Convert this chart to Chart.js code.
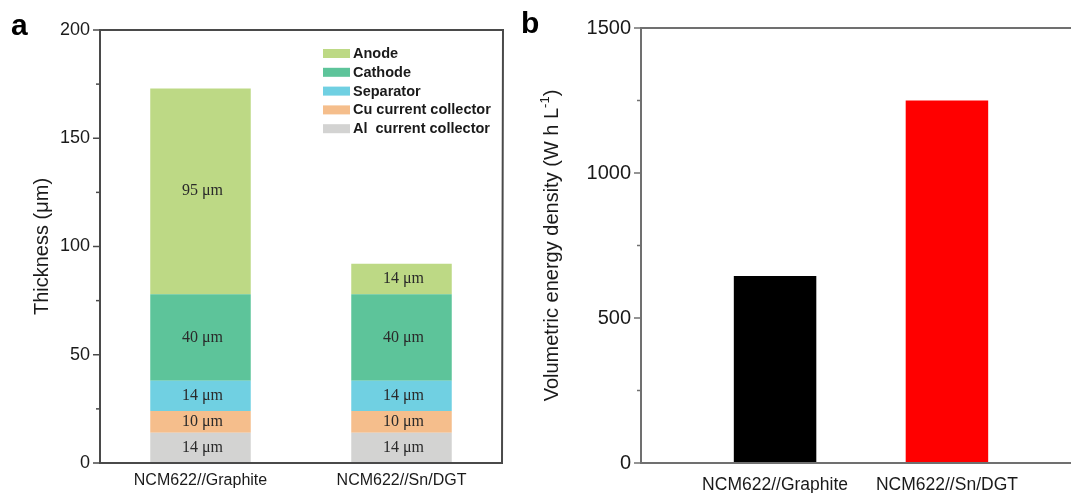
<!DOCTYPE html>
<html>
<head>
<meta charset="utf-8">
<title>Cell thickness and energy density</title>
<script src="https://cdn.jsdelivr.net/npm/chart.js@4.4.1/dist/chart.umd.min.js"></script>
<style>
  html, body { margin: 0; padding: 0; background: #fff; overflow: hidden; }
  #wrap { position: relative; width: 1071px; height: 493px; overflow: hidden; }
  #thickChart { position: absolute; left: 0; top: 0; }
  #energyChart { position: absolute; left: 530px; top: 0; }
  .panel { position: absolute; font: bold 30px Arial, "Liberation Sans", sans-serif; color: #000; line-height: 1; }
</style>
</head>
<body>
<div id="wrap">
  <canvas id="thickChart" width="530" height="493"></canvas>
  <canvas id="energyChart" width="560" height="493"></canvas>
  <div class="panel" style="left:11px; top:10px;">a</div>
  <div class="panel" style="left:521px; top:8px;">b</div>
</div>
<script>
// cell types on the x axis
const cells = ['NCM622//Graphite', 'NCM622//Sn/DGT'];

// layer thickness in µm, bottom of the stack first
const layers = ['Al  current collector', 'Cu current collector', 'Separator', 'Cathode', 'Anode'];
const alFoil = [14, 14];
const cuFoil = [10, 10];
const separator = [14, 14];
const cathode = [40, 40];
const anode = [95, 14];
const layerValues = [alFoil, cuFoil, separator, cathode, anode];
const layerColors = ['#d3d3d2', '#f5be8c', '#70d0e2', '#5dc49a', '#bdd985'];

// volumetric energy density, W h L-1
const energyDensity = [645, 1250];
const energyColors = ['#000000', '#ff0000'];

const sans = 'Arial, "Liberation Sans", sans-serif';
const serif = '"Liberation Serif", "Times New Roman", serif';

// axis frame + outward y tick marks (minor ticks shorter)
function framePlugin(color, major, drawRight) {
    return {
        id: 'frame',
        afterDraw(chart) {
            const { ctx, chartArea: a } = chart;
            const y = chart.scales.y;
            ctx.save();
            ctx.strokeStyle = color;
            ctx.lineWidth = 2;
            ctx.beginPath();
            ctx.moveTo(a.left, a.bottom);
            ctx.lineTo(a.left, a.top);
            ctx.moveTo(a.left - 1, a.top);
            ctx.lineTo(a.right + (drawRight ? 1 : 0), a.top);
            if (drawRight) ctx.lineTo(a.right, a.bottom);
            ctx.moveTo(a.left - 1, a.bottom);
            ctx.lineTo(a.right + 1, a.bottom);
            ctx.stroke();
            ctx.lineWidth = 1.5;
            y.ticks.forEach(t => {
                const py = y.getPixelForValue(t.value);
                const len = t.value % major === 0 ? 7 : 4;
                ctx.beginPath();
                ctx.moveTo(a.left - len, py);
                ctx.lineTo(a.left, py);
                ctx.stroke();
            });
            ctx.restore();
        }
    };
}

// rotated y axis title, optional superscript piece
function titlePlugin(x, parts) {
    return {
        id: 'yTitle',
        afterDraw(chart) {
            const { ctx, chartArea: a } = chart;
            ctx.save();
            ctx.fillStyle = '#1a1a1a';
            ctx.textBaseline = 'middle';
            const widths = parts.map(p => {
                ctx.font = (p.sup ? 13 : 20) + 'px ' + sans;
                return ctx.measureText(p.text).width;
            });
            const total = widths.reduce((s, w) => s + w, 0);
            ctx.translate(x, (a.top + a.bottom) / 2);
            ctx.rotate(-Math.PI / 2);
            let cx = -total / 2;
            parts.forEach((p, i) => {
                ctx.font = (p.sup ? 13 : 20) + 'px ' + sans;
                ctx.fillText(p.text, cx, p.sup ? -7 : 0);
                cx += widths[i];
            });
            ctx.restore();
        }
    };
}

// thickness written in the middle of each stacked segment
const segmentLabels = {
    id: 'segmentLabels',
    afterDatasetsDraw(chart) {
        const ctx = chart.ctx;
        ctx.save();
        ctx.font = '16px ' + serif;
        ctx.fillStyle = '#2a2a2a';
        ctx.textAlign = 'center';
        ctx.textBaseline = 'middle';
        chart.data.datasets.forEach((ds, di) => {
            chart.getDatasetMeta(di).data.forEach((bar, i) => {
                ctx.fillText(ds.data[i] + ' \u03bcm', bar.x + 2, (bar.y + bar.base) / 2);
            });
        });
        ctx.restore();
    }
};

// legend inside the plot, top layer listed first
const layerLegend = {
    id: 'layerLegend',
    afterDraw(chart) {
        const ctx = chart.ctx;
        const sets = chart.data.datasets.slice().reverse();
        ctx.save();
        ctx.font = 'bold 14.5px ' + sans;
        ctx.textBaseline = 'middle';
        sets.forEach((ds, i) => {
            const cy = 53.5 + i * 18.8;
            ctx.fillStyle = ds.backgroundColor;
            ctx.fillRect(323, cy - 4.5, 27, 9);
            ctx.fillStyle = '#1a1a1a';
            ctx.fillText(ds.label, 353, cy + 0.5);
        });
        ctx.restore();
    }
};

new Chart(document.getElementById('thickChart'), {
    type: 'bar',
    data: {
        labels: cells,
        datasets: layers.map((name, i) => ({
            label: name,
            data: layerValues[i],
            backgroundColor: layerColors[i],
            barPercentage: 1,
            categoryPercentage: 0.5
        }))
    },
    options: {
        responsive: false,
        animation: false,
        layout: { padding: { top: 30, right: 28, bottom: 0, left: 0 } },
        plugins: { legend: { display: false }, tooltip: { enabled: false } },
        scales: {
            x: {
                stacked: true,
                grid: { display: false },
                border: { display: false },
                ticks: { color: '#1a1a1a', font: { family: sans, size: 16 }, padding: 0, maxRotation: 0 },
                afterFit: s => { s.height = 30; }
            },
            y: {
                stacked: true,
                min: 0,
                max: 200,
                grid: { display: false },
                border: { display: false },
                ticks: {
                    stepSize: 25,
                    autoSkip: false,
                    padding: 2,
                    color: '#1a1a1a',
                    font: { family: sans, size: 18 },
                    callback: v => v % 50 === 0 ? v : ''
                },
                afterFit: s => { s.width = 100; }
            }
        }
    },
    plugins: [framePlugin('#4a4a4a', 50, true), segmentLabels, layerLegend,
              titlePlugin(42, [{ text: 'Thickness (\u03bcm)' }])]
});

new Chart(document.getElementById('energyChart'), {
    type: 'bar',
    data: {
        datasets: [{
            data: cells.map((c, i) => ({ x: i + 1, y: energyDensity[i] })),
            backgroundColor: energyColors,
            barPercentage: 0.48,
            categoryPercentage: 1
        }]
    },
    options: {
        responsive: false,
        animation: false,
        layout: { padding: { top: 28, right: 9, bottom: 0, left: 0 } },
        plugins: { legend: { display: false }, tooltip: { enabled: false } },
        scales: {
            x: {
                type: 'linear',
                offset: false,
                min: 0.22,
                max: 2.78,
                grid: { display: false },
                border: { display: false },
                afterBuildTicks: s => { s.ticks = cells.map((c, i) => ({ value: i + 1 })); },
                ticks: {
                    color: '#1a1a1a',
                    font: { family: sans, size: 17.5 },
                    padding: 4,
                    maxRotation: 0,
                    autoSkip: false,
                    callback: v => cells[v - 1] || ''
                },
                afterFit: s => { s.height = 30; }
            },
            y: {
                min: 0,
                max: 1500,
                grid: { display: false },
                border: { display: false },
                ticks: {
                    stepSize: 250,
                    autoSkip: false,
                    padding: 2,
                    color: '#1a1a1a',
                    font: { family: sans, size: 20 },
                    callback: v => v % 500 === 0 ? v : ''
                },
                afterFit: s => { s.width = 111; }
            }
        }
    },
    plugins: [framePlugin('#707070', 500, false),
              titlePlugin(22, [{ text: 'Volumetric energy density (W h L' }, { text: '-1', sup: true }, { text: ')' }])]
});
</script>
</body>
</html>
